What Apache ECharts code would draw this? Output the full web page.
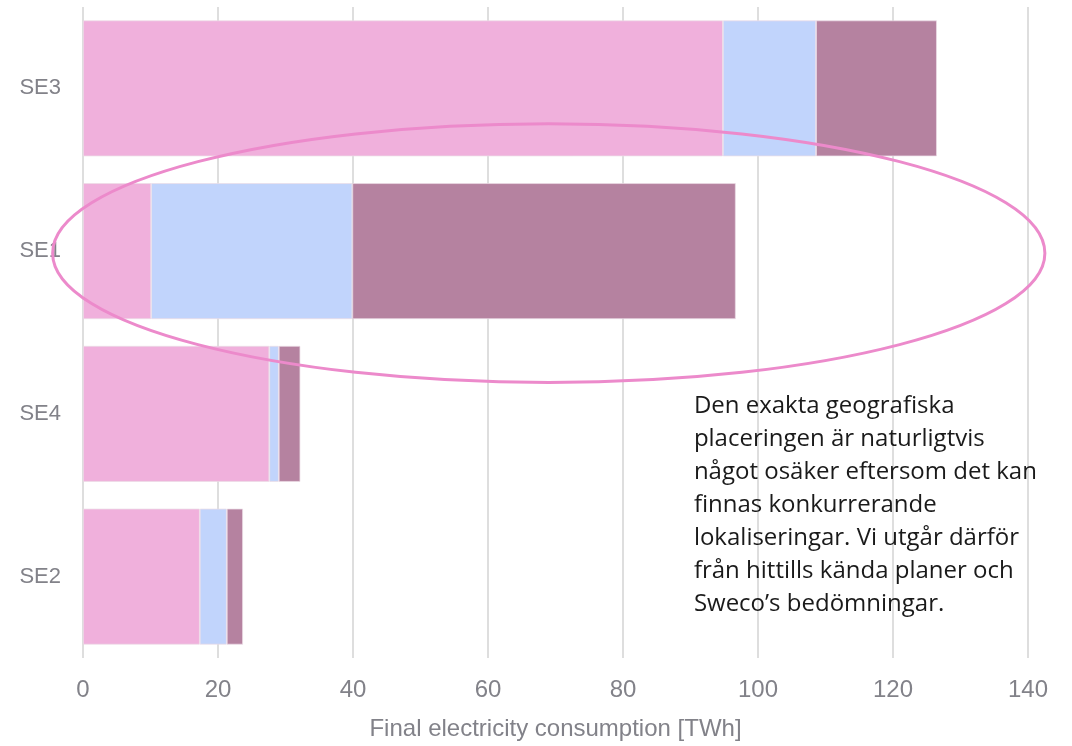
<!DOCTYPE html>
<html>
<head>
<meta charset="utf-8">
<script src="https://cdn.jsdelivr.net/npm/echarts@6/dist/echarts.min.js"></script>
<style>
  html, body { margin: 0; padding: 0; background: #ffffff; }
  #chart { width: 1072px; height: 746px; }
</style>
</head>
<body>
<div id="chart"></div>
<script>
// Price areas, listed bottom to top
const areas = ['SE2', 'SE4', 'SE1', 'SE3'];

// Final electricity consumption per price area [TWh], three stacked components
const partA = [17.3, 27.6, 10.1, 94.8];
const partB = [4.0, 1.4, 29.8, 13.8];
const partC = [2.4, 3.2, 56.8, 17.9];

// Value axis ticks
const axisMin = 0;
const axisMax = 140;
const axisStep = 20;

const axisTitle = 'Final electricity consumption [TWh]';
const noteText = [
  'Den exakta geografiska',
  'placeringen är naturligtvis',
  'något osäker eftersom det kan',
  'finnas konkurrerande',
  'lokaliseringar. Vi utgår därför',
  'från hittills kända planer och',
  'Sweco\u2019s bedömningar.'
];

// Highlight ring around the SE1 row: centre and half-width in TWh
const ringCentreTWh = 69.0;
const ringHalfWidthTWh = 73.5;
const ringArea = 'SE1';

const colA = '#F0B0DC';
const colB = '#C1D4FC';
const colC = '#B582A0';
const greyText = '#828289';

const chart = echarts.init(document.getElementById('chart'), null, { renderer: 'canvas' });

function barSeries(name, data, color) {
  return {
    name: name,
    type: 'bar',
    stack: 'total',
    data: data,
    barCategoryGap: '16.5%',
    itemStyle: { color: color, borderColor: 'rgba(236,220,230,0.9)', borderWidth: 0.8 },
    emphasis: { disabled: true },
    silent: true
  };
}

chart.setOption({
  animation: false,
  backgroundColor: '#ffffff',
  grid: { left: 83, right: 44, top: 7, bottom: 88, containLabel: false },
  xAxis: {
    type: 'value',
    min: axisMin,
    max: axisMax,
    interval: axisStep,
    name: axisTitle,
    nameLocation: 'middle',
    nameGap: 59,
    nameTextStyle: { color: greyText, fontSize: 24, fontFamily: 'Liberation Sans, Arial, sans-serif' },
    axisLine: { show: false },
    axisTick: { show: false },
    axisLabel: { color: greyText, fontSize: 24, margin: 20, fontFamily: 'Liberation Sans, Arial, sans-serif' },
    splitLine: { show: true, lineStyle: { color: '#dedede', width: 2 } }
  },
  yAxis: {
    type: 'category',
    data: areas,
    axisLine: { show: false },
    axisTick: { show: false },
    axisLabel: { color: greyText, fontSize: 22, margin: 22, fontFamily: 'Liberation Sans, Arial, sans-serif' },
    splitLine: { show: false }
  },
  series: [
    barSeries('A', partA, colA),
    barSeries('B', partB, colB),
    barSeries('C', partC, colC)
  ]
});

// Place the highlight ring and note using the chart's own scales
const centre = chart.convertToPixel({ gridIndex: 0 }, [ringCentreTWh, ringArea]);
const edge = chart.convertToPixel({ gridIndex: 0 }, [ringCentreTWh + ringHalfWidthTWh, ringArea]);
const nextRow = chart.convertToPixel({ gridIndex: 0 }, [0, areas[areas.indexOf(ringArea) - 1]]);
const band = Math.abs(nextRow[1] - centre[1]);
const notePos = chart.convertToPixel({ gridIndex: 0 }, [90.5, 'SE4']);

chart.setOption({
  graphic: [
    {
      type: 'ellipse',
      shape: { cx: centre[0], cy: centre[1] + 2, rx: edge[0] - centre[0], ry: band * 0.795 },
      style: { fill: 'none', stroke: '#EC8ACB', lineWidth: 3 },
      silent: true,
      z: 100
    },
    {
      type: 'text',
      left: notePos[0],
      top: notePos[1] - 24,
      style: {
        text: noteText.join('\n'),
        font: '24px "Open Sans", Roboto, sans-serif',
        lineHeight: 33,
        fill: '#1a1a1a'
      },
      silent: true,
      z: 100
    }
  ]
});
</script>
</body>
</html>
